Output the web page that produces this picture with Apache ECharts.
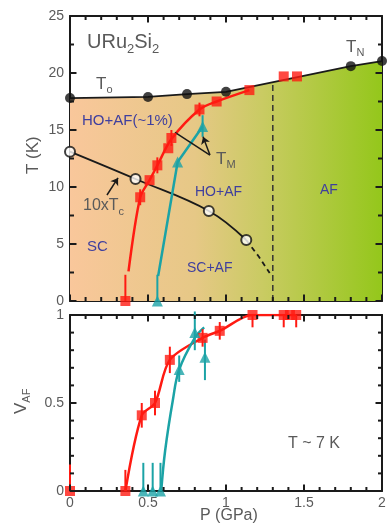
<!DOCTYPE html>
<html>
<head>
<meta charset="utf-8">
<script src="https://cdn.jsdelivr.net/npm/echarts@6/dist/echarts.min.js"></script>
<style>
  html, body { margin: 0; padding: 0; background: #fff; }
  #chart { width: 389px; height: 529px; }
</style>
</head>
<body>
<div id="chart"></div>
<script>
// URu2Si2 pressure-temperature phase diagram (P in GPa, T in K)
const t0tnLine   = [[0, 17.8], [0.5, 17.9], [0.75, 18.15], [1.0, 18.35], [1.8, 20.6], [2.0, 21.05]];
const t0tnPoints = [[0, 17.8], [0.5, 17.9], [0.75, 18.15], [1.0, 18.35], [1.8, 20.6], [2.0, 21.05]];

const txPoints = [[0.355, 0], [0.45, 9.1], [0.51, 10.6], [0.56, 11.9], [0.63, 13.4], [0.65, 14.3],
                  [0.83, 16.8], [0.94, 17.5], [1.15, 18.5], [1.37, 19.7], [1.455, 19.7]];
const txCurve  = [[0.375, 2.6], [0.45, 9.1], [0.51, 10.6], [0.56, 11.9], [0.65, 14.2],
                  [0.83, 16.8], [0.94, 17.5], [1.15, 18.5]];
const txErr    = [[0.355, 0, 2.3], [0.45, 8.4, 9.8], [0.56, 11.2, 12.6], [0.65, 13.6, 15.0], [0.83, 16.2, 17.4]];

const tmPoints = [[0.56, 0], [0.69, 12.2], [0.85, 15.3]];
const tmCurve  = [[0.565, 2.2], [0.69, 12.2], [0.85, 15.3]];
const tmErr    = [[0.56, 0, 2.3], [0.85, 14.4, 16.3]];

const tc10Points = [[0, 13.1], [0.42, 10.7], [0.89, 7.9], [1.13, 5.35]];
const tc10Dash   = [[1.13, 5.35], [1.21, 3.9], [1.28, 2.45]];
const hoAfBorder = [[1.3, 0], [1.3, 19.2]];

// AF volume fraction at T ~ 7 K
const vRedPoints = [[0, 0], [0.355, 0], [0.46, 0.43], [0.545, 0.5], [0.64, 0.745], [0.85, 0.87],
                    [0.96, 0.91], [1.17, 1.0], [1.37, 1.0], [1.41, 1.0], [1.45, 1.0]];
const vRedCurve  = [[0.355, 0], [0.46, 0.43], [0.545, 0.5], [0.64, 0.745], [0.85, 0.87],
                    [0.96, 0.91], [1.17, 1.0], [1.45, 1.0]];
const vRedErr    = [[0, 0, 0.15], [0.355, 0, 0.12], [0.46, 0.36, 0.5], [0.545, 0.43, 0.57],
                    [0.64, 0.67, 0.82], [0.85, 0.82, 0.92], [0.96, 0.86, 0.96],
                    [1.17, 0.93, 1.0], [1.37, 0.93, 1.0], [1.45, 0.93, 1.0]];
const vCyanPoints = [[0.47, 0], [0.53, 0], [0.58, 0], [0.70, 0.69], [0.80, 0.9], [0.865, 0.76]];
const vCyanCurve  = [[0.585, 0], [0.61, 0.23], [0.66, 0.52], [0.70, 0.69], [0.80, 0.87], [0.86, 0.93]];
const vCyanErr    = [[0.47, 0, 0.16], [0.53, 0, 0.16], [0.58, 0, 0.16], [0.70, 0.62, 0.77],
                     [0.80, 0.8, 1.02], [0.865, 0.63, 0.86]];

const pTickLabels = ['0', '0.5', '1', '1.5', '2'];
const tTickLabels = ['0', '5', '10', '15', '20', '25'];
const vTickLabels = ['0', '0.5', '1'];

const FONT = '"Liberation Sans", Arial, Helvetica, sans-serif';
const RED = '#ff1a12';
const CYAN = '#1ba3a6';
const INK = '#1a1a1a';
const GREY = '#5a5a5a';
const REGION = '#3f3f9e';

const chart = echarts.init(document.getElementById('chart'), null, { renderer: 'canvas' });

function xAxis(gridIndex, position, labels) {
  return {
    type: 'value', gridIndex, position, min: 0, max: 2, interval: 0.5,
    axisLine: { show: true, onZero: false, lineStyle: { color: INK, width: 2 } },
    axisTick: { show: false },
    minorTick: { show: false },
    splitLine: { show: false }, minorSplitLine: { show: false },
    axisLabel: {
      show: !!labels, color: GREY, fontSize: 14, fontFamily: FONT, margin: 5,
      formatter: (v, i) => labels ? labels[i] : ''
    }
  };
}
function yAxis(gridIndex, position, max, interval, labels) {
  return {
    type: 'value', gridIndex, position, min: 0, max, interval,
    axisLine: { show: true, onZero: false, lineStyle: { color: INK, width: 2 } },
    axisTick: { show: false },
    minorTick: { show: false },
    splitLine: { show: false }, minorSplitLine: { show: false },
    axisLabel: {
      show: !!labels, color: GREY, fontSize: 14, fontFamily: FONT, margin: 6,
      formatter: (v, i) => labels ? labels[i] : ''
    }
  };
}

// Inward-pointing major/minor ticks on all four sides of a panel
function frameTicks(xi, yi, xMax, xMajor, xMinor, yMax, yMajor, yMinor) {
  return {
    type: 'custom', xAxisIndex: xi, yAxisIndex: yi, data: [[0, 0]], silent: true, z: 20, clip: false,
    renderItem: (params, api) => {
      const cs = params.coordSys;
      const children = [];
      const seg = (x1, y1, x2, y2) => children.push({
        type: 'line', shape: { x1, y1, x2, y2 }, style: { stroke: INK, lineWidth: 2 }
      });
      const isMajor = (v, step) => Math.abs(v / step - Math.round(v / step)) < 1e-6;
      const nx = Math.round(xMax / xMinor);
      for (let i = 0; i <= nx; i++) {
        const v = i * xMinor;
        const px = api.coord([v, 0])[0];
        const L = isMajor(v, xMajor) ? 6.5 : 4;
        seg(px, cs.y + cs.height, px, cs.y + cs.height - L);
        seg(px, cs.y, px, cs.y + L);
      }
      const ny = Math.round(yMax / yMinor);
      for (let i = 0; i <= ny; i++) {
        const v = i * yMinor;
        const py = api.coord([0, v])[1];
        const L = isMajor(v, yMajor) ? 6.5 : 4;
        seg(cs.x, py, cs.x + L, py);
        seg(cs.x + cs.width, py, cs.x + cs.width - L, py);
      }
      return { type: 'group', children };
    }
  };
}

function errorBars(data, color, xi, yi) {
  return {
    type: 'custom', xAxisIndex: xi, yAxisIndex: yi, data, silent: true, z: 4,
    encode: { x: 0, y: [1, 2] },
    renderItem: (params, api) => {
      const a = api.coord([api.value(0), api.value(1)]);
      const b = api.coord([api.value(0), api.value(2)]);
      return { type: 'line', shape: { x1: a[0], y1: a[1], x2: b[0], y2: b[1] },
               style: { stroke: color, lineWidth: 2 } };
    }
  };
}

// Text with subscripts, laid out piece by piece
const measureCtx = document.createElement('canvas').getContext('2d');
function textWidth(t, size) {
  measureCtx.font = size + 'px ' + FONT;
  return measureCtx.measureText(t).width;
}
function label(x, y, parts, size, color, rotation) {
  const children = [];
  let cx = 0;
  parts.forEach(([t, sub]) => {
    const fs = sub ? Math.round(size * 0.66) : size;
    children.push({
      type: 'text', x: cx, y: sub ? size * 0.36 : 0, z: 100,
      style: { text: t, font: fs + 'px ' + FONT, fill: color,
               textAlign: 'left', textVerticalAlign: 'middle', verticalAlign: 'middle' }
    });
    cx += textWidth(t, fs);
  });
  return { type: 'group', x, y, z: 100, rotation: rotation || 0, silent: true, children };
}

const option = {
  animation: false,
  backgroundColor: '#ffffff',
  grid: [
    { left: 70, top: 16, width: 312, height: 285, outerBoundsMode: 'none', containLabel: false },
    { left: 70, top: 315, width: 312, height: 176, outerBoundsMode: 'none', containLabel: false }
  ],
  xAxis: [
    xAxis(0, 'bottom', null),
    xAxis(0, 'top', null),
    xAxis(1, 'bottom', pTickLabels),
    xAxis(1, 'top', null)
  ],
  yAxis: [
    yAxis(0, 'left', 25, 5, tTickLabels),
    yAxis(0, 'right', 25, 5, null),
    yAxis(1, 'left', 1, 0.5, vTickLabels),
    yAxis(1, 'right', 1, 0.5, null)
  ],
  series: [
    // ordered phase region below T0 / TN
    {
      type: 'line', xAxisIndex: 0, yAxisIndex: 0, data: t0tnLine, symbol: 'none', silent: true, z: 1,
      lineStyle: { color: INK, width: 1.8 },
      areaStyle: {
        opacity: 1,
        color: new echarts.graphic.LinearGradient(0, 0, 1, 0, [
          { offset: 0, color: '#f9c79b' },
          { offset: 0.4, color: '#e6c886' },
          { offset: 0.62, color: '#c9cb62' },
          { offset: 1, color: '#94c71b' }
        ])
      }
    },
    {
      type: 'line', xAxisIndex: 0, yAxisIndex: 0, data: hoAfBorder, symbol: 'none', silent: true, z: 2,
      lineStyle: { color: '#333', width: 1.5, type: [6, 4] }
    },
    {
      type: 'line', xAxisIndex: 0, yAxisIndex: 0, data: tc10Points, symbol: 'none', smooth: 0.4, silent: true, z: 3,
      lineStyle: { color: INK, width: 1.8 }
    },
    {
      type: 'line', xAxisIndex: 0, yAxisIndex: 0, data: tc10Dash, symbol: 'none', silent: true, z: 3,
      lineStyle: { color: INK, width: 1.8, type: [5, 4] }
    },
    {
      type: 'line', xAxisIndex: 0, yAxisIndex: 0, data: txCurve, symbol: 'none', smooth: 0.3, silent: true, z: 3,
      lineStyle: { color: RED, width: 2.5 }
    },
    {
      type: 'line', xAxisIndex: 0, yAxisIndex: 0, data: tmCurve, symbol: 'none', silent: true, z: 3,
      lineStyle: { color: CYAN, width: 2.5 }
    },
    errorBars(txErr, RED, 0, 0),
    errorBars(tmErr, CYAN, 0, 0),
    // annotation arrows for T_M and 10xTc
    {
      type: 'line', xAxisIndex: 0, yAxisIndex: 0, data: [], silent: true, z: 5,
      markLine: {
        silent: true, animation: false, symbolSize: 7,
        label: { show: false },
        lineStyle: { color: INK, width: 1.5, type: 'solid' },
        data: [
          [{ coord: [0.897, 12.8], symbol: 'none' }, { coord: [0.673, 14.8], symbol: 'none' }],
          [{ coord: [0.897, 12.8], symbol: 'none' }, { coord: [0.853, 14.4], symbol: 'arrow' }],
          [{ coord: [0.237, 9.3], symbol: 'none' }, { coord: [0.308, 10.8], symbol: 'arrow' }]
        ]
      }
    },
    {
      type: 'scatter', xAxisIndex: 0, yAxisIndex: 0, data: t0tnPoints, symbol: 'circle', symbolSize: 10, z: 6,
      itemStyle: { color: '#111', borderWidth: 0 }
    },
    {
      type: 'scatter', xAxisIndex: 0, yAxisIndex: 0, data: tc10Points, symbol: 'circle', symbolSize: 10, z: 6,
      itemStyle: { color: '#ffffff', borderColor: '#111', borderWidth: 2 }
    },
    {
      type: 'scatter', xAxisIndex: 0, yAxisIndex: 0, data: txPoints, symbol: 'rect', symbolSize: 10, z: 6,
      itemStyle: { color: RED }
    },
    {
      type: 'scatter', xAxisIndex: 0, yAxisIndex: 0, data: tmPoints, symbol: 'triangle', symbolSize: 11, z: 6,
      itemStyle: { color: CYAN }
    },
    frameTicks(0, 0, 2, 0.5, 0.1, 25, 5, 2.5),

    // V_AF panel
    {
      type: 'line', xAxisIndex: 2, yAxisIndex: 2, data: vRedCurve, symbol: 'none', smooth: 0.3, silent: true, z: 3,
      lineStyle: { color: RED, width: 2.5 }
    },
    {
      type: 'line', xAxisIndex: 2, yAxisIndex: 2, data: vCyanCurve, symbol: 'none', smooth: 0.4, silent: true, z: 3,
      lineStyle: { color: CYAN, width: 2.5 }
    },
    errorBars(vRedErr, RED, 2, 2),
    errorBars(vCyanErr, CYAN, 2, 2),
    {
      type: 'scatter', xAxisIndex: 2, yAxisIndex: 2, data: vRedPoints, symbol: 'rect', symbolSize: 10, z: 6,
      itemStyle: { color: RED }
    },
    {
      type: 'scatter', xAxisIndex: 2, yAxisIndex: 2, data: vCyanPoints, symbol: 'triangle', symbolSize: 11, z: 6,
      itemStyle: { color: CYAN }
    },
    frameTicks(2, 2, 2, 0.5, 0.1, 1, 0.5, 0.1)
  ],
  graphic: [
    label(87, 42, [['URu', 0], ['2', 1], ['Si', 0], ['2', 1]], 20, GREY),
    label(96, 84, [['T', 0], ['o', 1]], 17, GREY),
    label(346, 47, [['T', 0], ['N', 1]], 17, GREY),
    label(216, 159, [['T', 0], ['M', 1]], 17, GREY),
    label(83, 206, [['10xT', 0], ['c', 1]], 16, GREY),
    label(82, 121, [['HO+AF(~1%)', 0]], 15, REGION),
    label(195, 192, [['HO+AF', 0]], 14, REGION),
    label(320, 190, [['AF', 0]], 14, REGION),
    label(87, 247, [['SC', 0]], 15, REGION),
    label(187, 268, [['SC+AF', 0]], 14, REGION),
    label(288, 444, [['T ~ 7 K', 0]], 16, GREY),
    label(200, 516, [['P (GPa)', 0]], 16, GREY),
    label(33, 174, [['T (K)', 0]], 17, GREY, Math.PI / 2),
    label(21, 414, [['V', 0], ['AF', 1]], 17, GREY, Math.PI / 2)
  ]
};

chart.setOption(option);
</script>
</body>
</html>
